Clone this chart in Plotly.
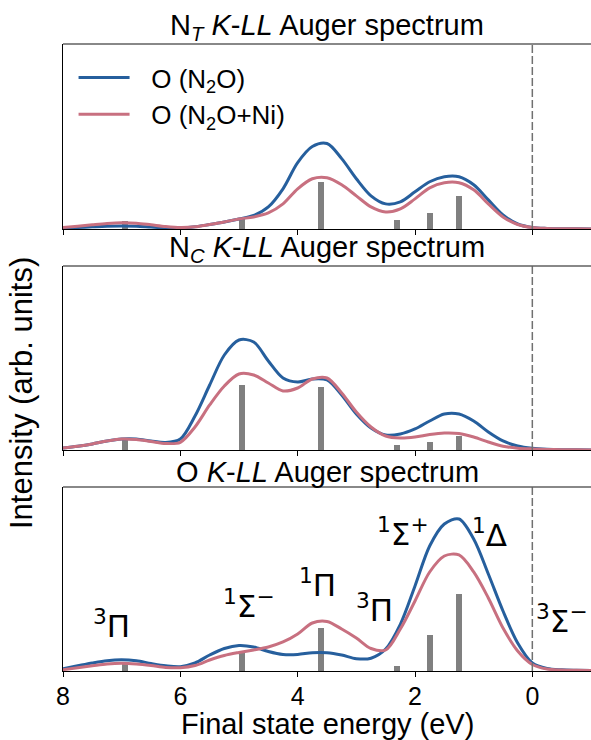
import plotly.graph_objects as go

# ---------------- data ----------------
energy = [8.0, 7.75, 7.5, 7.25, 7.0, 6.75, 6.5, 6.25, 6.0, 5.75, 5.5, 5.25, 5.0,
          4.75, 4.5, 4.25, 4.0, 3.75, 3.5, 3.25, 3.0, 2.75, 2.5, 2.25, 2.0,
          1.75, 1.5, 1.25, 1.0, 0.75, 0.5, 0.25, 0.0, -0.25, -0.5, -0.75, -1.0]

# N_T K-LL
nt_n2o = [1.0, 1.5, 2.2, 2.8, 3.0, 2.8, 2.0, 1.3, 1.2, 2.2, 4.5, 7.0, 10.0,
          13.5, 22.0, 40.0, 66.0, 82.0, 85.0, 70.0, 50.0, 33.0, 25.0, 27.0, 37.0,
          47.0, 52.0, 52.0, 44.0, 29.0, 14.0, 5.0, 1.5, 0.6, 0.3, 0.2, 0.1]
nt_n2o_ni = [1.5, 2.8, 4.2, 5.5, 6.2, 5.8, 4.2, 2.5, 1.5, 2.2, 4.5, 7.0, 10.0,
             12.0, 16.0, 25.0, 40.0, 50.0, 51.0, 44.0, 33.0, 22.0, 17.0, 20.0, 30.0,
             41.0, 46.0, 46.0, 39.0, 25.0, 12.0, 4.5, 1.5, 0.6, 0.3, 0.2, 0.1]

# N_C K-LL
nc_n2o = [2.0, 3.7, 6.0, 9.0, 11.0, 11.0, 9.0, 7.5, 11.0, 34.0, 65.0, 95.0, 110.0,
          108.0, 89.0, 72.0, 68.0, 71.0, 70.0, 55.0, 36.0, 22.0, 15.0, 16.0, 21.0,
          29.0, 36.0, 36.0, 29.0, 18.0, 9.0, 4.0, 1.7, 0.7, 0.3, 0.2, 0.1]
nc_n2o_ni = [2.0, 3.7, 6.0, 9.0, 11.0, 10.5, 8.5, 6.5, 7.7, 23.0, 45.0, 64.0, 76.0,
             75.0, 67.0, 59.0, 62.0, 71.0, 72.0, 57.0, 38.0, 23.0, 14.0, 12.0, 13.0,
             15.5, 17.0, 16.5, 13.0, 8.0, 3.7, 1.8, 1.0, 0.5, 0.3, 0.2, 0.1]

# O K-LL
o_n2o = [2.3, 5.2, 8.0, 10.3, 11.2, 10.2, 7.5, 5.2, 4.3, 8.0, 16.0, 22.5, 25.5,
         24.0, 19.5, 16.5, 16.5, 18.3, 18.3, 16.0, 12.3, 12.8, 22.0, 46.7, 85.0,
         125.0, 147.0, 152.0, 132.0, 97.0, 60.0, 28.0, 8.0, 2.5, 1.2, 0.8, 0.6]
o_n2o_ni = [1.3, 3.3, 5.2, 7.0, 7.7, 7.0, 5.5, 3.6, 3.3, 5.5, 11.0, 15.5, 18.5,
            21.0, 24.0, 29.0, 37.0, 48.0, 49.5, 42.0, 33.0, 22.5, 21.0, 42.0, 70.0,
            99.0, 115.0, 116.0, 99.0, 73.0, 43.0, 20.0, 6.5, 2.0, 1.0, 0.7, 0.6]

# stick spectrum
stick_energy = [6.95, 4.95, 3.6, 2.3, 1.75, 1.25]
nt_sticks = [8.0, 10.5, 47.0, 9.0, 16.0, 33.0]
nc_sticks = [10.0, 65.0, 63.0, 4.7, 7.7, 14.0]
o_sticks = [8.3, 19.0, 43.0, 4.7, 36.0, 77.0]

panel_titles = ["N<sub><i>T</i></sub> <i>K</i>-<i>LL</i> Auger spectrum",
                "N<sub><i>C</i></sub> <i>K</i>-<i>LL</i> Auger spectrum",
                "O <i>K</i>-<i>LL</i> Auger spectrum"]
series_names = ["O (N<sub>2</sub>O)", "O (N<sub>2</sub>O+Ni)"]

state_labels = ["<sup>3</sup>Π", "<sup>1</sup>Σ<sup>−</sup>", "<sup>1</sup>Π",
                "<sup>3</sup>Π", "<sup>1</sup>Σ<sup>+</sup>", "<sup>1</sup>Δ",
                "<sup>3</sup>Σ<sup>−</sup>"]
state_label_x = [7.17, 4.83, 3.67, 2.69, 2.20, 0.73, -0.50]
state_label_y = [46.7, 66.7, 87.7, 62.5, 138.5, 138.0, 52.0]

x_ticks = [8, 6, 4, 2, 0]

# ---------------- styling ----------------
FONT = "Liberation Sans"
MATH_FONT = "DejaVu Sans"
BLUE = "rgb(38,95,157)"
PINK = "rgb(200,112,128)"
GREY = "#808080"
Y_MAX = 184
PAD = "\u00a0\u00a0\u200a"

panels = [(nt_n2o, nt_n2o_ni, nt_sticks), (nc_n2o, nc_n2o_ni, nc_sticks),
          (o_n2o, o_n2o_ni, o_sticks)]
domains = [[0.7049, 1.0], [0.3525, 0.6459], [0.0, 0.2935]]

fig = go.Figure()
for i, (blue, pink, sticks) in enumerate(panels):
    xa = "x" if i == 0 else f"x{i+1}"
    ya = "y" if i == 0 else f"y{i+1}"
    fig.add_trace(go.Bar(x=stick_energy, y=sticks, width=0.1,
                         marker=dict(color=GREY, line=dict(width=0)),
                         xaxis=xa, yaxis=ya, showlegend=False, hoverinfo="skip"))
    fig.add_trace(go.Scatter(x=energy, y=blue, mode="lines",
                             line=dict(color=BLUE, width=3, shape="spline", smoothing=0.9),
                             name=PAD + series_names[0], showlegend=(i == 0),
                             xaxis=xa, yaxis=ya))
    fig.add_trace(go.Scatter(x=energy, y=pink, mode="lines",
                             line=dict(color=PINK, width=3, shape="spline", smoothing=0.9),
                             name=PAD + series_names[1], showlegend=(i == 0),
                             xaxis=xa, yaxis=ya))

layout = dict(
    width=591, height=740,
    margin=dict(l=63, r=0, t=44, b=69),
    paper_bgcolor="white", plot_bgcolor="white",
    font=dict(family=FONT, size=26, color="black"),
    showlegend=True,
    legend=dict(x=0.02, y=0.984, xanchor="left", yanchor="top",
                bgcolor="rgba(0,0,0,0)", font=dict(size=26, family=FONT),
                tracegroupgap=0, itemwidth=51),
    bargap=0,
)
for i in range(3):
    sx = "" if i == 0 else str(i + 1)
    layout[f"xaxis{sx}"] = dict(
        domain=[0, 1], range=[8, -1], anchor=f"y{sx}",
        tickvals=x_ticks, ticktext=[str(t) for t in x_ticks],
        showticklabels=(i == 2), ticks="outside", ticklen=5, tickwidth=1.3,
        tickcolor="black", showline=True, linecolor="black", linewidth=1.3,
        showgrid=False, zeroline=False, tickfont=dict(size=25, family=FONT),
        ticklabelstandoff=-2,
    )
    layout[f"yaxis{sx}"] = dict(
        domain=domains[i], range=[0, Y_MAX], anchor=f"x{sx}",
        showticklabels=False, ticks="", showline=True, linecolor="black",
        linewidth=1.3, showgrid=False, zeroline=False,
    )
fig.update_layout(**layout)

shapes = []
annotations = []
for i in range(3):
    sx = "" if i == 0 else str(i + 1)
    shapes.append(dict(type="line", xref=f"x{sx}", yref=f"y{sx} domain",
                       x0=0, x1=0, y0=0, y1=1,
                       line=dict(color="#707070", width=1.5, dash="8px,3px")))
    shapes.append(dict(type="line", xref="paper", yref=f"y{sx} domain",
                       x0=0, x1=1, y0=1, y1=1,
                       line=dict(color="#606060", width=1.3)))
    annotations.append(dict(text=panel_titles[i], xref="paper", yref="paper",
                            x=0.5, y=domains[i][1], xanchor="center", yanchor="bottom",
                            yshift=-3, showarrow=False,
                            font=dict(size=29, family=FONT, color="black")))
for t, xv, yv in zip(state_labels, state_label_x, state_label_y):
    annotations.append(dict(text=t, xref="x3", yref="y3", x=xv, y=yv,
                            xanchor="center", yanchor="middle", showarrow=False,
                            font=dict(size=31, family=MATH_FONT, color="black")))
annotations.append(dict(text="Intensity (arb. units)", xref="paper", yref="paper",
                        x=-0.080, y=0.443, xanchor="center", yanchor="middle",
                        textangle=-90, showarrow=False,
                        font=dict(size=31, family=FONT, color="black")))
annotations.append(dict(text="Final state energy (eV)", xref="paper", yref="paper",
                        x=0.5, y=-0.0845, xanchor="center", yanchor="middle",
                        showarrow=False,
                        font=dict(size=29, family=FONT, color="black")))
fig.update_layout(shapes=shapes, annotations=annotations)

fig.write_html("out.html")
